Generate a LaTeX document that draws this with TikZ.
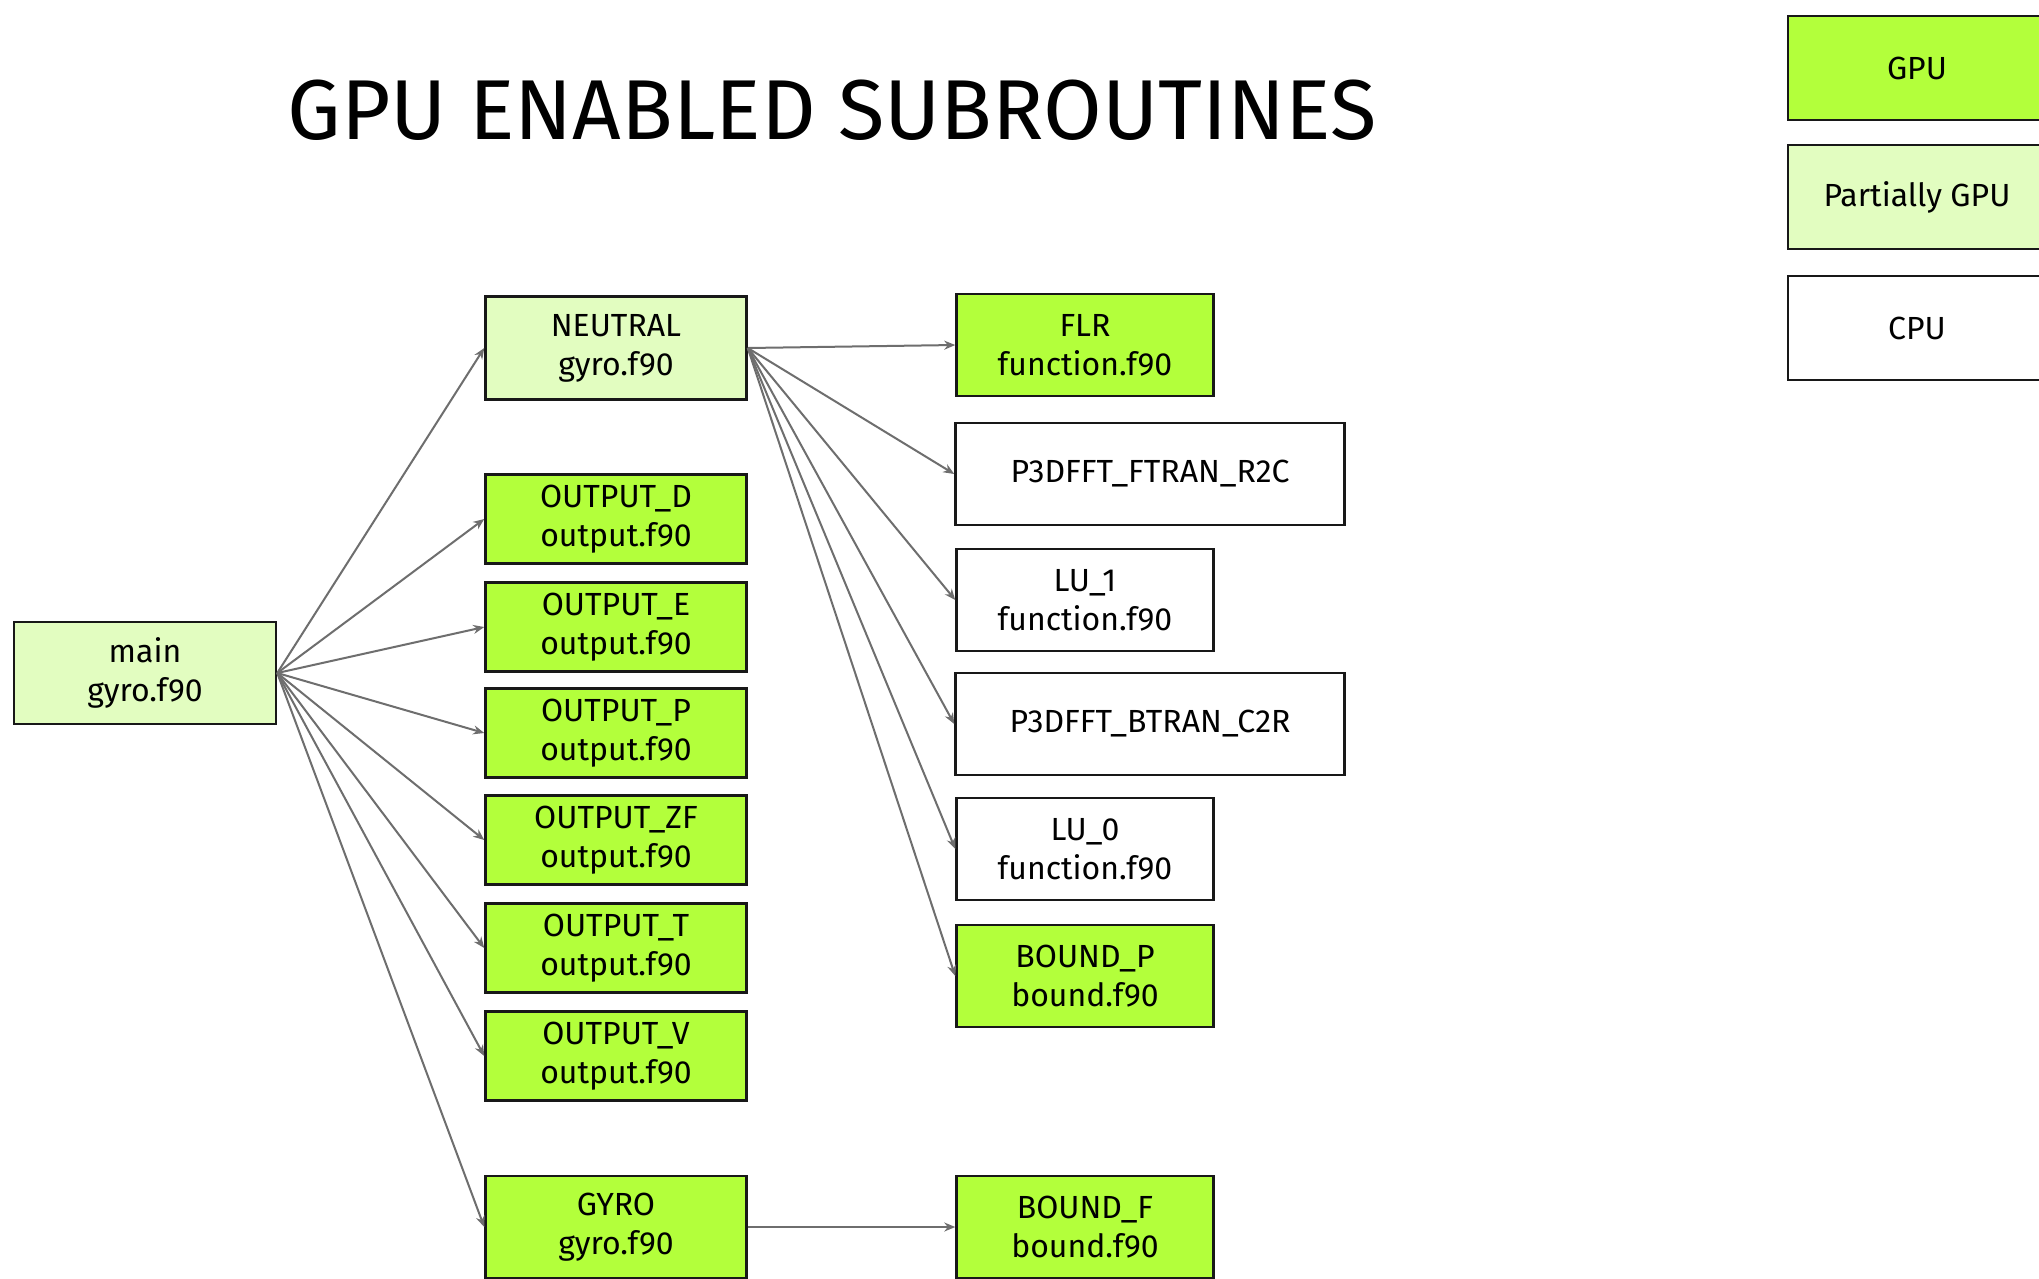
\documentclass[tikz,border=0pt]{standalone}
\usepackage{fontspec}
\setmainfont{Fira Sans}
\usetikzlibrary{arrows.meta}

\definecolor{gpucolor0000}{RGB}{179,255,59}
\definecolor{gpucolor0001}{RGB}{226,253,192}
\definecolor{gpucolor0002}{RGB}{24,24,24}
\definecolor{gpucolor0003}{RGB}{110,110,110}

\begin{document}
\begin{tikzpicture}[yscale=-1
                ,pstyle1/.style={draw=gpucolor0002,line width=2.5pt,align=center,inner sep=0pt,text=black,font=\fontsize{32}{39}\selectfont}
                ,pstyle2/.style={pstyle1,fill=gpucolor0000}
                ,pstyle3/.style={pstyle1,fill=gpucolor0001}
                ,pstyle4/.style={pstyle1,fill=white}
                ,pstyle5/.style={draw=gpucolor0003,line width=2pt,-{Stealth[length=11pt,width=9pt]}}
                ,pstyle6/.style={minimum width=261pt,minimum height=89pt}
                ,pstyle7/.style={minimum width=257pt,minimum height=102pt}
                ,pstyle8/.style={minimum width=389pt,minimum height=102pt}
            ]
            \useasboundingbox (0pt,0pt) rectangle (2039pt,1278pt);
            \fill[white] (0pt,0pt) rectangle (2039pt,1278pt);
            \clip (0pt,0pt) rectangle (2039pt,1278pt);
            \node (title) at (832pt,139pt)[anchor=base,text=black,font=\fontsize{85}{95}\selectfont]{GPU ENABLED SUBROUTINES};
            % legend
            \node (leggpu) at (1917pt,68pt)[pstyle2,minimum width=258pt,minimum height=104pt]{GPU};
            \node (legpart) at (1917pt,197pt)[pstyle3,minimum width=258pt,minimum height=104pt]{Partially GPU};
            \node (legcpu) at (1917pt,328pt)[pstyle4,minimum width=258pt,minimum height=104pt]{CPU};
            % callers
            \node (main) at (145pt,673pt)[pstyle3,minimum width=262pt,minimum height=102pt]{main\\gyro.f90};
            \node (neutral) at (616pt,348pt)[pstyle3,minimum width=261pt,minimum height=103pt]{NEUTRAL\\gyro.f90};
            \node (outd) at (616pt,519pt)[pstyle2,pstyle6]{OUTPUT\_D\\output.f90};
            \node (oute) at (616pt,627pt)[pstyle2,pstyle6]{OUTPUT\_E\\output.f90};
            \node (outp) at (616pt,733pt)[pstyle2,pstyle6]{OUTPUT\_P\\output.f90};
            \node (outzf) at (616pt,840pt)[pstyle2,pstyle6]{OUTPUT\_ZF\\output.f90};
            \node (outt) at (616pt,948pt)[pstyle2,pstyle6]{OUTPUT\_T\\output.f90};
            \node (outv) at (616pt,1056pt)[pstyle2,pstyle6]{OUTPUT\_V\\output.f90};
            \node (gyro) at (616pt,1227pt)[pstyle2,minimum width=261pt,minimum height=102pt]{GYRO\\gyro.f90};
            % callees
            \node (flr) at (1085pt,345pt)[pstyle2,pstyle7]{FLR\\function.f90};
            \node (ftran) at (1150pt,474pt)[pstyle4,pstyle8]{P3DFFT\_FTRAN\_R2C};
            \node (luone) at (1085pt,600pt)[pstyle4,pstyle7]{LU\_1\\function.f90};
            \node (btran) at (1150pt,724pt)[pstyle4,pstyle8]{P3DFFT\_BTRAN\_C2R};
            \node (luzero) at (1085pt,849pt)[pstyle4,pstyle7]{LU\_0\\function.f90};
            \node (boundp) at (1085pt,976pt)[pstyle2,pstyle7]{BOUND\_P\\bound.f90};
            \node (boundf) at (1085pt,1227pt)[pstyle2,pstyle7]{BOUND\_F\\bound.f90};
            % calls from main
            \draw[pstyle5] (main.east) -- (neutral.west);
            \draw[pstyle5] (main.east) -- (outd.west);
            \draw[pstyle5] (main.east) -- (oute.west);
            \draw[pstyle5] (main.east) -- (outp.west);
            \draw[pstyle5] (main.east) -- (outzf.west);
            \draw[pstyle5] (main.east) -- (outt.west);
            \draw[pstyle5] (main.east) -- (outv.west);
            \draw[pstyle5] (main.east) -- (gyro.west);
            % calls from NEUTRAL
            \draw[pstyle5] (neutral.east) -- (flr.west);
            \draw[pstyle5] (neutral.east) -- (ftran.west);
            \draw[pstyle5] (neutral.east) -- (luone.west);
            \draw[pstyle5] (neutral.east) -- (btran.west);
            \draw[pstyle5] (neutral.east) -- (luzero.west);
            \draw[pstyle5] (neutral.east) -- (boundp.west);
            \draw[pstyle5] (gyro.east) -- (boundf.west);
        \end{tikzpicture}
\end{document}
